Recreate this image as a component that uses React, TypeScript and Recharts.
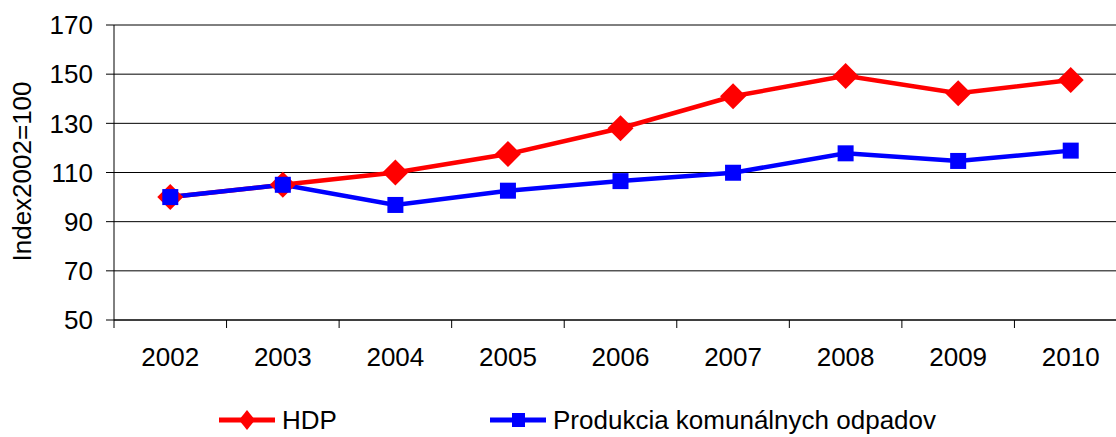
import React from 'react';
import { LineChart, Line, XAxis, YAxis, CartesianGrid } from 'recharts';

const years = ['2002', '2003', '2004', '2005', '2006', '2007', '2008', '2009', '2010'];
const hdp = [100, 105, 110, 117.5, 128, 141, 149.3, 142.2, 147.6];
const odpady = [100, 105, 96.8, 102.6, 106.5, 109.9, 117.8, 114.7, 118.9];
const yTicks = [50, 70, 90, 110, 130, 150, 170];
const bandTicks = [0, 1, 2, 3, 4, 5, 6, 7, 8, 9];

const W = 1116;
const H = 437;
// the plot area runs past the right edge of the picture
const M = { top: 25, right: -11, bottom: 0, left: 0 };
const Y_W = 114;
const X_H = 117;
const FONT = '"Liberation Sans", Arial, sans-serif';
const FS = 26;

const data = years.map((year, i) => ({ year, pos: i + 0.5, hdp: hdp[i], odpady: odpady[i] }));
const halfBand = (W - M.left - M.right - Y_W) / years.length / 2;

const Diamond = (p: any) => {
  const { cx, cy } = p;
  if (cx == null || cy == null) return null;
  const r = 13;
  return <polygon key={`d${p.index}`} points={`${cx},${cy - r} ${cx + r},${cy} ${cx},${cy + r} ${cx - r},${cy}`} fill="#ff0000" />;
};

const Square = (p: any) => {
  const { cx, cy } = p;
  if (cx == null || cy == null) return null;
  const s = 8;
  return <rect key={`s${p.index}`} x={cx - s} y={cy - s} width={s * 2} height={s * 2} fill="#0000ff" />;
};

const YearTick = (p: any) => {
  const { x, y, payload } = p;
  const i = payload.value;
  if (i >= years.length) return null;
  return (
    <text x={x + halfBand} y={y + 29} textAnchor="middle" dominantBaseline="central" fill="#000" fontSize={FS} fontFamily={FONT}>
      {years[i]}
    </text>
  );
};

function LegendItem({ color, label, shape }: { color: string; label: string; shape: 'diamond' | 'square' }) {
  return (
    <div style={{ display: 'flex', alignItems: 'center', height: 24 }}>
      <svg width={63} height={24}>
        <line x1={0} y1={12} x2={56} y2={12} stroke={color} strokeWidth={5} />
        {shape === 'diamond' ? (
          <polygon points="28,2 36,12 28,22 20,12" fill={color} />
        ) : (
          <rect x={22} y={5} width={13} height={14} fill={color} />
        )}
      </svg>
      <span style={{ fontSize: FS, color: '#000', fontFamily: FONT, lineHeight: '24px' }}>{label}</span>
    </div>
  );
}

export default function App() {
  return (
    <div style={{ position: 'absolute', left: 0, top: 0, width: W, height: H, background: '#fff', overflow: 'hidden' }}>
      <LineChart width={W} height={H} data={data} margin={M} style={{ fontFamily: FONT }}>
        <CartesianGrid vertical={false} stroke="#000" strokeWidth={1} />
        <XAxis
          type="number"
          dataKey="pos"
          domain={[0, years.length]}
          ticks={bandTicks}
          interval={0}
          height={X_H}
          tickSize={8}
          tickMargin={0}
          axisLine={{ stroke: '#000' }}
          tickLine={{ stroke: '#000' }}
          tick={<YearTick />}
        />
        <YAxis
          domain={[50, 170]}
          ticks={yTicks}
          interval={0}
          width={Y_W}
          tickSize={8}
          tickMargin={13}
          axisLine={{ stroke: '#000' }}
          tickLine={{ stroke: '#000' }}
          tick={{ fill: '#000', fontSize: FS, fontFamily: FONT }}
          label={({ viewBox }: any) => {
            const x = viewBox.x + 22;
            const y = viewBox.y + viewBox.height / 2 - 1;
            return (
              <text x={x} y={y} transform={`rotate(-90 ${x} ${y})`} textAnchor="middle" dominantBaseline="central" fill="#000" fontSize={FS} fontFamily={FONT}>
                Index2002=100
              </text>
            );
          }}
        />
        <Line dataKey="hdp" name="HDP" stroke="#ff0000" strokeWidth={4.5} dot={Diamond} activeDot={false} isAnimationActive={false} />
        <Line dataKey="odpady" name="Produkcia komunálnych odpadov" stroke="#0000ff" strokeWidth={4.5} dot={Square} activeDot={false} isAnimationActive={false} />
      </LineChart>
      <div style={{ position: 'absolute', left: 219, top: 408, display: 'flex' }}>
        <div style={{ width: 271 }}>
          <LegendItem color="#ff0000" label="HDP" shape="diamond" />
        </div>
        <LegendItem color="#0000ff" label="Produkcia komunálnych odpadov" shape="square" />
      </div>
    </div>
  );
}
